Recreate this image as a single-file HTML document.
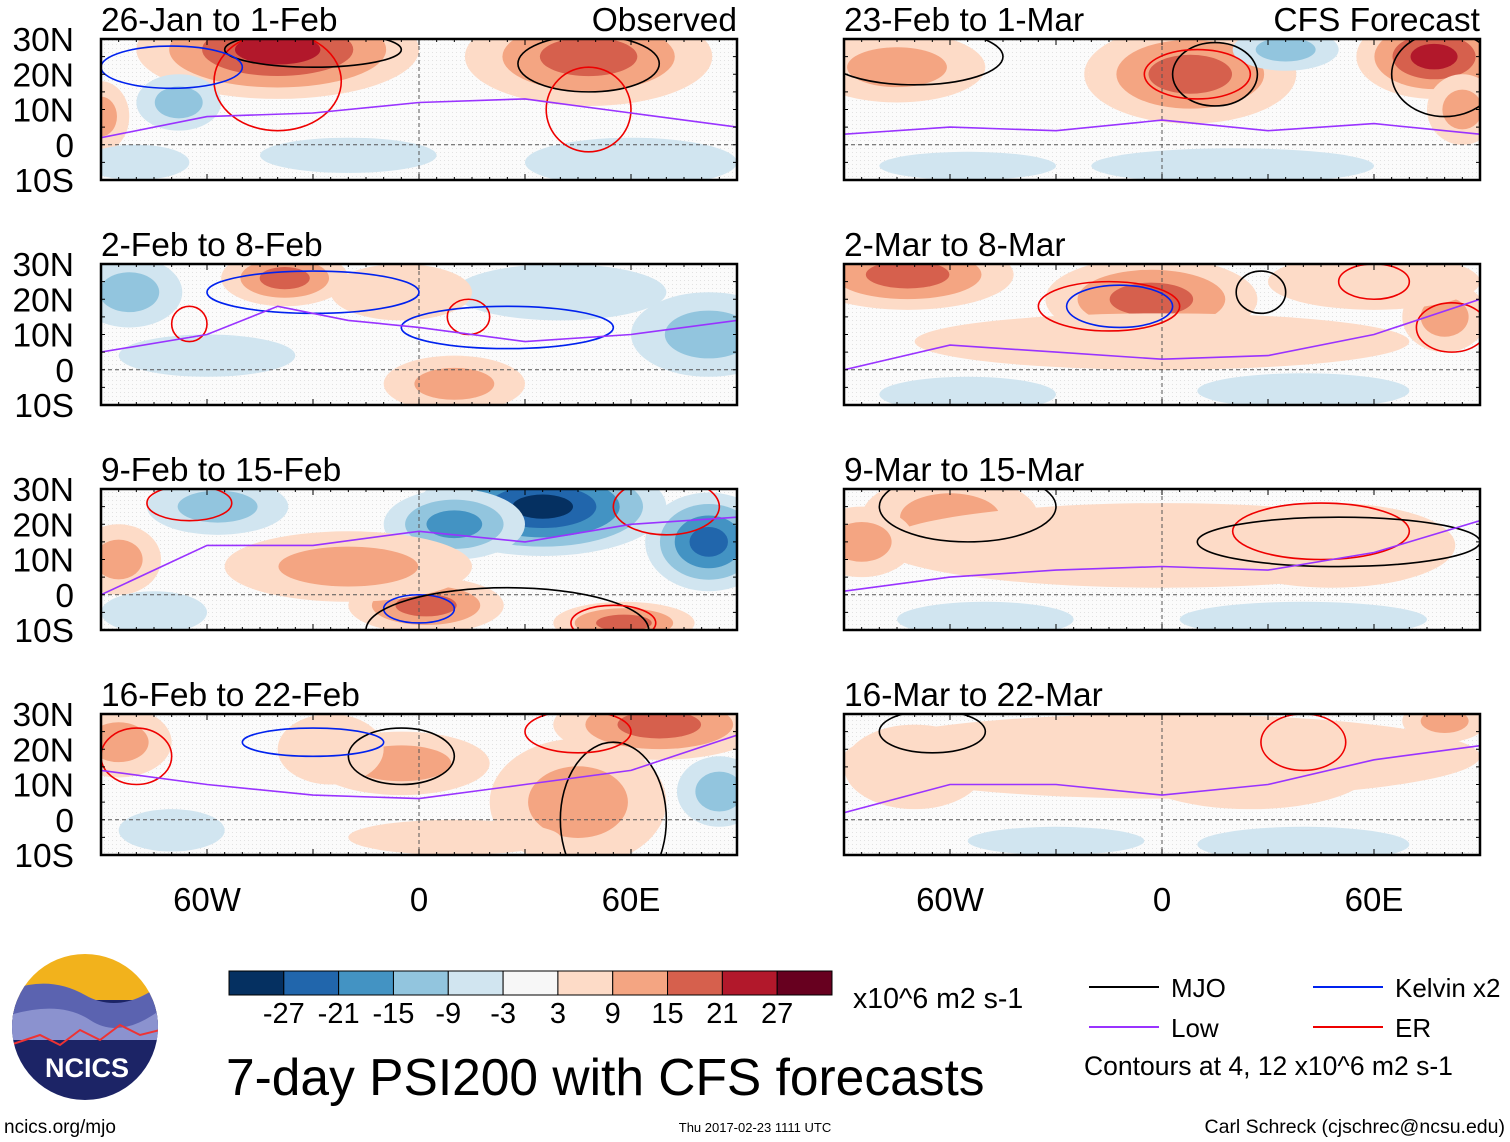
<!DOCTYPE html>
<html><head><meta charset="utf-8"><style>
body{margin:0;background:#fff;}
svg{display:block;font-family:"Liberation Sans",sans-serif;}
</style></head><body>
<svg id="fig" width="1510" height="1142" viewBox="0 0 1510 1142">
<defs>
<pattern id="stip" width="4" height="4" patternUnits="userSpaceOnUse"><rect width="4" height="4" fill="#fbfbfb"/><rect width="1" height="1" fill="#e2e2e2"/></pattern>
</defs>
<g id="panels"></g>
<g id="bottom"></g>
</svg>
<script>
// ---- data ----
const panelTitles=["26-Jan to 1-Feb","23-Feb to 1-Mar","2-Feb to 8-Feb","2-Mar to 8-Mar","9-Feb to 15-Feb","9-Mar to 15-Mar","16-Feb to 22-Feb","16-Mar to 22-Mar"];
const panelTags=["Observed","CFS Forecast","","","","","",""];
const latTicks=[30,20,10,0,-10];
const latLabels=["30N","20N","10N","0","10S"];
const lonTicks=[-60,0,60];
const lonLabels=["60W","0","60E"];
const levels=[-27,-21,-15,-9,-3,3,9,15,21,27];
const levelLabels=["-27","-21","-15","-9","-3","3","9","15","21","27"];
const colors=["#053061","#2166ac","#4393c3","#92c5de","#d1e5f0","#f7f7f7","#fddbc7","#f4a582","#d6604d","#b2182b","#67001f"];
// anomaly blobs: [lon, lat, lonRadius, latRadius, peak value]
const blobs0=[[-40,27,40,14,21],[48,25,35,14,15],[-90,8,8,10,9],[-68,12,12,8,-9],[60,-5,30,7,-3],[-20,-3,25,5,-3],[-80,-5,15,5,-3]];
const blobs1=[[77,25,22,12,21],[8,20,30,14,15],[-75,22,25,10,9],[35,27,15,6,-9],[20,-6,40,5,-3],[-55,-6,25,4,-3],[85,10,10,10,9]];
const blobs2=[[-38,26,18,8,15],[-82,22,15,10,-9],[82,10,22,12,-9],[10,-4,20,8,9],[-60,4,25,6,-3],[40,22,30,8,-3],[-5,22,20,8,3]];
const blobs3=[[-72,27,30,10,15],[-3,20,30,12,15],[80,15,12,10,9],[0,8,70,8,3],[-55,-7,25,5,-3],[40,-6,30,5,-3],[60,25,30,8,3]];
const blobs4=[[35,25,35,14,-27],[82,15,18,14,-21],[10,20,20,10,-15],[2,-3,22,8,15],[-20,8,35,10,9],[58,-8,20,6,15],[-57,25,20,8,-9],[-85,10,12,10,9],[-75,-5,15,6,-3]];
const blobs5=[[-60,22,25,12,9],[48,14,35,12,15],[0,14,80,12,3],[-50,-7,25,5,-3],[40,-7,35,5,-3],[-85,15,15,10,9]];
const blobs6=[[68,27,30,10,15],[-5,16,25,9,9],[-85,22,15,10,9],[45,5,25,18,9],[85,8,12,10,-9],[-70,-3,15,6,-3],[10,-5,30,5,3],[-25,20,15,10,3]];
const blobs7=[[25,15,35,12,9],[0,18,90,12,3],[-70,15,20,12,3],[40,-7,30,5,-3],[-30,-6,25,4,-3],[80,28,12,6,9]];
const blobs=[blobs0,blobs1,blobs2,blobs3,blobs4,blobs5,blobs6,blobs7];
// contour rings: [lon, lat, lonRadius, latRadius, type]
const rings0=[[48,23,20,8,"mjo"],[-40,18,18,14,"er"],[48,10,12,12,"er"],[-30,27,25,5,"mjo"],[-70,22,20,6,"kel"]];
const rings1=[[15,20,12,9,"mjo"],[10,20,15,7,"er"],[80,20,15,12,"mjo"],[-70,25,25,8,"mjo"]];
const rings2=[[14,15,6,5,"er"],[-65,13,5,5,"er"],[-30,22,30,6,"kel"],[25,12,30,6,"kel"]];
const rings3=[[-15,18,20,7,"er"],[-12,18,15,6,"kel"],[28,22,7,6,"mjo"],[60,25,10,5,"er"],[82,12,10,7,"er"]];
const rings4=[[0,-4,10,4,"kel"],[25,-10,40,12,"mjo"],[-65,26,12,5,"er"],[55,-8,12,5,"er"],[70,25,15,8,"er"]];
const rings5=[[45,18,25,8,"er"],[50,15,40,7,"mjo"],[-55,25,25,10,"mjo"]];
const rings6=[[-5,18,15,8,"mjo"],[-80,18,10,8,"er"],[55,0,15,22,"mjo"],[45,25,15,6,"er"],[-30,22,20,4,"kel"]];
const rings7=[[40,22,12,8,"er"],[-65,25,15,6,"mjo"]];
const rings=[rings0,rings1,rings2,rings3,rings4,rings5,rings6,rings7];
// "Low" (purple) lines: lon/lat pairs
const low0=[[-90,2],[-60,8],[-30,9],[0,12],[30,13],[60,9],[90,5]];
const low1=[[-90,3],[-60,5],[-30,4],[0,7],[30,4],[60,6],[90,3]];
const low2=[[-90,5],[-60,10],[-40,18],[-20,14],[0,12],[30,8],[60,10],[90,14]];
const low3=[[-90,0],[-60,7],[-30,5],[0,3],[30,4],[60,10],[90,20]];
const low4=[[-90,0],[-60,14],[-30,14],[0,18],[30,15],[60,20],[90,22]];
const low5=[[-90,1],[-60,5],[-30,7],[0,8],[30,7],[60,12],[90,21]];
const low6=[[-90,14],[-60,10],[-30,7],[0,6],[30,10],[60,14],[90,24]];
const low7=[[-90,2],[-60,10],[-30,10],[0,7],[30,10],[60,17],[90,21]];
const lows=[low0,low1,low2,low3,low4,low5,low6,low7];

const NS="http://www.w3.org/2000/svg";
function mk(tag,attrs,parent){const e=document.createElementNS(NS,tag);for(const k in attrs)e.setAttribute(k,attrs[k]);if(parent)parent.appendChild(e);return e;}
const colX=[101,844], rowY=[39,264,489,714], PW=636, PH=141;
function xs(p,lon){return colX[p%2]+(lon+90)/180*PW;}
function ys(p,lat){return rowY[Math.floor(p/2)]+(30-lat)/40*PH;}
function colorFor(v){let i=0;while(i<levels.length&&v>=levels[i])i++;return colors[i];}
const ringColor={mjo:"#000",kel:"#0022ee",er:"#ee0000",low:"#9933ff"};
const root=document.getElementById("panels");
for(let p=0;p<8;p++){
  const g=mk("g",{},root);
  
  
  const x0=colX[p%2],y0=rowY[Math.floor(p/2)];
  const cp=mk("clipPath",{id:"cp"+p},g);mk("rect",{x:x0,y:y0,width:PW,height:PH},cp);
  mk("rect",{x:x0,y:y0,width:PW,height:PH,fill:"url(#stip)"},g);
  const inner=mk("g",{"clip-path":"url(#cp"+p+")"},g);
  blobs[p].forEach(b=>{
    const v=b[4],s=Math.sign(v),a=Math.abs(v);
    const th=[3,9,15,21,27].filter(t=>a>=t);const n=th.length;
    th.forEach((t,k)=>{const f=1-k/(n+0.3);
      const e=mk("ellipse",{cx:xs(p,b[0]),cy:ys(p,b[1]),rx:b[2]*f*PW/180,ry:b[3]*f*PH/40,fill:colorFor(s*(t+0.1))},inner);
      
      });
  });
  mk("line",{x1:x0,x2:x0+PW,y1:ys(p,0),y2:ys(p,0),stroke:"#555","stroke-dasharray":"4,3","stroke-width":1},inner);
  mk("line",{x1:xs(p,0),x2:xs(p,0),y1:y0,y2:y0+PH,stroke:"#555","stroke-dasharray":"4,3","stroke-width":1},inner);
  rings[p].forEach(r=>{const e=mk("ellipse",{cx:xs(p,r[0]),cy:ys(p,r[1]),rx:r[2]*PW/180,ry:r[3]*PH/40,fill:"none",stroke:ringColor[r[4]],"stroke-width":1.6},inner);
    
    });
  const pts=lows[p].map(q=>xs(p,q[0]).toFixed(1)+","+ys(p,q[1]).toFixed(1)).join(" ");
  const pl=mk("polyline",{points:pts,fill:"none",stroke:ringColor.low,"stroke-width":1.6},inner);
  
  
  mk("rect",{x:x0,y:y0,width:PW,height:PH,fill:"none",stroke:"#000","stroke-width":2.5},g);
  for(let lon=-90;lon<=90;lon+=5){const len=lon%30===0?6:3;
    mk("line",{x1:xs(p,lon),x2:xs(p,lon),y1:y0,y2:y0+len,stroke:"#000"},g);
    mk("line",{x1:xs(p,lon),x2:xs(p,lon),y1:y0+PH,y2:y0+PH-len,stroke:"#000"},g);}
  for(let lat=-10;lat<=30;lat+=5){mk("line",{x1:x0,x2:x0+4,y1:ys(p,lat),y2:ys(p,lat),stroke:"#000"},g);
    mk("line",{x1:x0+PW,x2:x0+PW-4,y1:ys(p,lat),y2:ys(p,lat),stroke:"#000"},g);}
  const t=mk("text",{x:x0,y:y0-8,"font-size":33.5,textLength:null},g);t.removeAttribute("textLength");t.textContent=panelTitles[p];
  
  
  if(panelTags[p]){const tg=mk("text",{x:x0+PW,y:y0-8,"font-size":33.5,"text-anchor":"end"},g);tg.textContent=panelTags[p];
    
    }
  if(p%2===0){latTicks.forEach((lt,i)=>{const l=mk("text",{x:74,y:ys(p,lt)+12,"font-size":33.5,"text-anchor":"end"},g);l.textContent=latLabels[i];
    
    });}
  if(p>=6){lonTicks.forEach((ln,i)=>{const l=mk("text",{x:xs(p,ln),y:911,"font-size":33,"text-anchor":"middle"},g);l.textContent=lonLabels[i];
    
    });}
}
const bt=document.getElementById("bottom");
const cbX=229,cbW=603/11;
colors.forEach((c,i)=>{const r=mk("rect",{x:cbX+i*cbW,y:971,width:cbW,height:24,fill:c,stroke:"#000","stroke-width":1},bt);
  
  });
levelLabels.forEach((l,i)=>{const t=mk("text",{x:cbX+(i+1)*cbW,y:1023,"font-size":29,"text-anchor":"middle"},bt);t.textContent=l;
  
  });
function txt(x,y,s,str,anchor,name){const t=mk("text",{x:x,y:y,"font-size":s,"text-anchor":anchor||"start"},bt);t.textContent=str;
  
  return t;}
txt(853,1008,28.5,"x10^6 m2 s-1","start","colorbar-units");
txt(226,1095,51.5,"7-day PSI200 with CFS forecasts","start","main-title");
const leg=[[1089,987,"mjo","MJO"],[1313,987,"kel","Kelvin x2"],[1089,1027,"low","Low"],[1313,1027,"er","ER"]];
leg.forEach(l=>{mk("line",{x1:l[0],x2:l[0]+70,y1:l[1],y2:l[1],stroke:ringColor[l[2]],"stroke-width":2},bt);
  txt(l[0]+82,l[1]+10,26,l[3],"start","legend-entry");});
txt(1084,1075,26.5,"Contours at 4, 12 x10^6 m2 s-1","start","contour-note");
txt(4,1133,19,"ncics.org/mjo","start","footer-url");
txt(755,1132,13,"Thu 2017-02-23 1111 UTC","middle","footer-date");
txt(1505,1133,19.5,"Carl Schreck (cjschrec@ncsu.edu)","end","footer-author");
const lg=mk("g",{},bt);
const lc=mk("clipPath",{id:"logoclip"},lg);mk("circle",{cx:85,cy:1027,r:73},lc);
const li=mk("g",{"clip-path":"url(#logoclip)"},lg);
mk("rect",{x:10,y:950,width:150,height:80,fill:"#f2b21c"},li);
mk("rect",{x:10,y:1000,width:150,height:110,fill:"#1c2466"},li);
mk("path",{d:"M10 990 Q50 975 85 995 T160 985 L160 1030 L10 1030Z",fill:"#5b63b0"},li);
mk("path",{d:"M10 1015 Q60 1000 90 1020 T160 1010 L160 1040 L10 1040Z",fill:"#8b92cf"},li);
mk("polyline",{points:"10,1045 40,1035 60,1045 80,1030 100,1040 120,1025 140,1035 160,1030",fill:"none",stroke:"#e33","stroke-width":2},li);
const lt=mk("text",{x:87,y:1077,"font-size":27,"font-weight":"bold",fill:"#fff","text-anchor":"middle"},lg);lt.textContent="NCICS";
</script>
</body></html>
